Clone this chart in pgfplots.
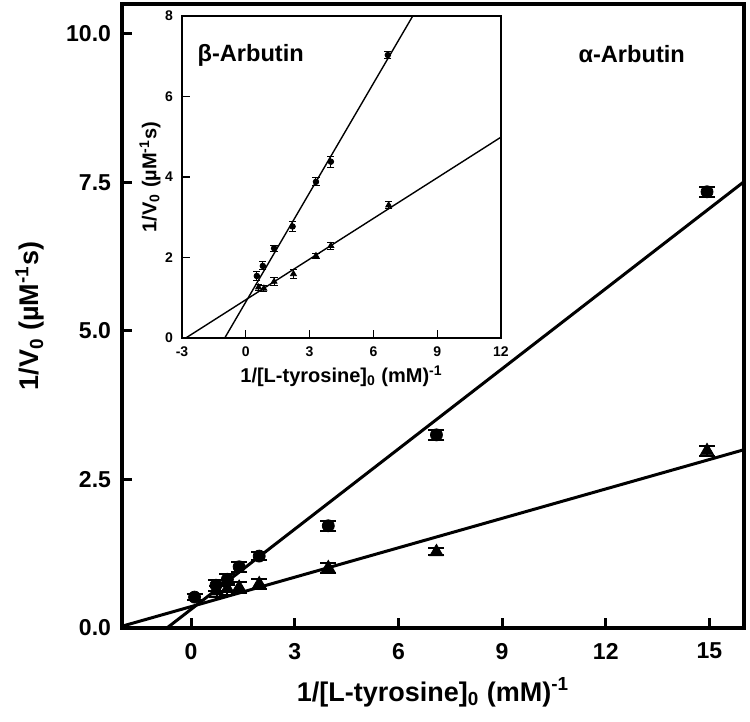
\documentclass[border=0pt]{standalone}
\usepackage{fontspec}
\setmainfont{Liberation Sans}
\usepackage{pgfplots}
\pgfplotsset{compat=1.18}

% main plot: alpha-arbutin, with error in column e
\pgfplotstableread{
x y e
0.10 0.52 0.05
0.72 0.72 0.09
1.05 0.82 0.09
1.39 1.03 0.08
1.97 1.21 0.07
3.97 1.72 0.08
7.10 3.25 0.08
14.93 7.34 0.08
}\alphacirc
\pgfplotstableread{
x y e
0.75 0.62 0.09
1.05 0.66 0.10
1.39 0.68 0.09
1.97 0.74 0.08
3.97 1.01 0.08
7.10 1.28 0.06
14.93 2.98 0.08
}\alphatri
% inset: beta-arbutin
\pgfplotstableread{
x y e
0.52 1.54 0.10
0.80 1.79 0.10
1.33 2.23 0.08
2.20 2.77 0.12
3.30 3.88 0.10
4.00 4.38 0.14
6.68 7.03 0.08
}\betacirc
\pgfplotstableread{
x y e
0.60 1.26 0.08
0.85 1.23 0.08
1.33 1.40 0.10
2.24 1.59 0.10
3.30 2.04 0.06
4.00 2.29 0.08
6.72 3.30 0.08
}\betatri

\begin{document}
\begin{tikzpicture}
\begin{axis}[
    name=main,
    scale only axis,
    width=311bp, height=312bp,
    xmin=-2, xmax=16, ymin=0, ymax=10.5,
    xtick={0,3,6,9,12,15},
    ytick={0,2.5,5,7.5,10},
    yticklabel style={/pgf/number format/fixed, /pgf/number format/fixed zerofill, /pgf/number format/precision=1},
    /pgf/number format/assume math mode=true,
    ticklabel style={font=\bfseries\fontsize{11.5bp}{13bp}\selectfont},
    tick pos=left, tick align=inside,
    major tick length=5bp,
    tick style={line width=1.5bp, black},
    axis line style={line width=2bp},
    xticklabel style={yshift=-4bp},
    yticklabel style={xshift=-2bp},
    xlabel={1/[L-tyrosine]\textsubscript{0} (mM)\textsuperscript{-1}},
    ylabel={1/V\textsubscript{0} (µM\textsuperscript{-1}s)},
    label style={font=\bfseries\fontsize{13.5bp}{16bp}\selectfont},
    xlabel style={at={(axis description cs:0.5,-0.103)}, anchor=center},
    ylabel style={at={(axis description cs:-0.148,0.5)}, anchor=center},
    clip=true,
]
\addplot[black, line width=1.5bp] coordinates {(-0.70,0) (16,7.51)};
\addplot[black, line width=1.5bp] coordinates {(-2,0.03) (16,3.0)};
\addplot[only marks, mark=*, mark size=3bp, black,
    error bars/.cd, y dir=both, y explicit, error mark options={rotate=90, mark size=4bp, line width=1bp}, error bar style={line width=1bp}]
    table[x=x, y=y, y error=e] {\alphacirc};
\addplot[only marks, mark=triangle*, mark size=3.8bp, black,
    error bars/.cd, y dir=both, y explicit, error mark options={rotate=90, mark size=4bp, line width=1bp}, error bar style={line width=1bp}]
    table[x=x, y=y, y error=e] {\alphatri};
\node[font=\bfseries\fontsize{11.8bp}{13bp}\selectfont] at (axis cs:12.75,9.65) {α-Arbutin};
\end{axis}

\begin{axis}[
    at={(main.north west)}, anchor=north west, xshift=30bp, yshift=-6bp,
    scale only axis,
    width=159.5bp, height=161bp,
    axis background/.style={fill=white},
    xmin=-3, xmax=12, ymin=0, ymax=8,
    xtick={-3,0,3,6,9,12},
    ytick={0,2,4,6,8},
    /pgf/number format/assume math mode=true,
    ticklabel style={font=\bfseries\fontsize{7bp}{8bp}\selectfont},
    tick pos=left, tick align=inside,
    major tick length=4bp,
    tick style={line width=0.6bp, black},
    axis line style={line width=1bp},
    xticklabel style={yshift=-1bp},
    yticklabel style={xshift=-1bp},
    xlabel={1/[L-tyrosine]\textsubscript{0} (mM)\textsuperscript{-1}},
    ylabel={1/V\textsubscript{0} (µM\textsuperscript{-1}s)},
    label style={font=\bfseries\fontsize{10bp}{11bp}\selectfont},
    xlabel style={at={(axis description cs:0.5,-0.118)}, anchor=center},
    ylabel style={at={(axis description cs:-0.10,0.5)}, anchor=center},
]
\addplot[black, line width=0.7bp] coordinates {(-0.99,0) (7.85,8)};
\addplot[black, line width=0.7bp] coordinates {(-2.82,0) (12,4.99)};
\addplot[only marks, mark=*, mark size=1.4bp, black,
    error bars/.cd, y dir=both, y explicit, error mark options={rotate=90, mark size=1.8bp, line width=0.5bp}, error bar style={line width=0.5bp}]
    table[x=x, y=y, y error=e] {\betacirc};
\addplot[only marks, mark=triangle*, mark size=1.7bp, black,
    error bars/.cd, y dir=both, y explicit, error mark options={rotate=90, mark size=1.8bp, line width=0.5bp}, error bar style={line width=0.5bp}]
    table[x=x, y=y, y error=e] {\betatri};
\node[font=\bfseries\fontsize{11.8bp}{13bp}\selectfont] at (axis cs:0.23,7.03) {β-Arbutin};
\end{axis}
\pgfresetboundingbox
\path[use as bounding box] (main.south west) ++(-61bp,-47bp) rectangle ++(375bp,361bp);
\end{tikzpicture}
\end{document}
